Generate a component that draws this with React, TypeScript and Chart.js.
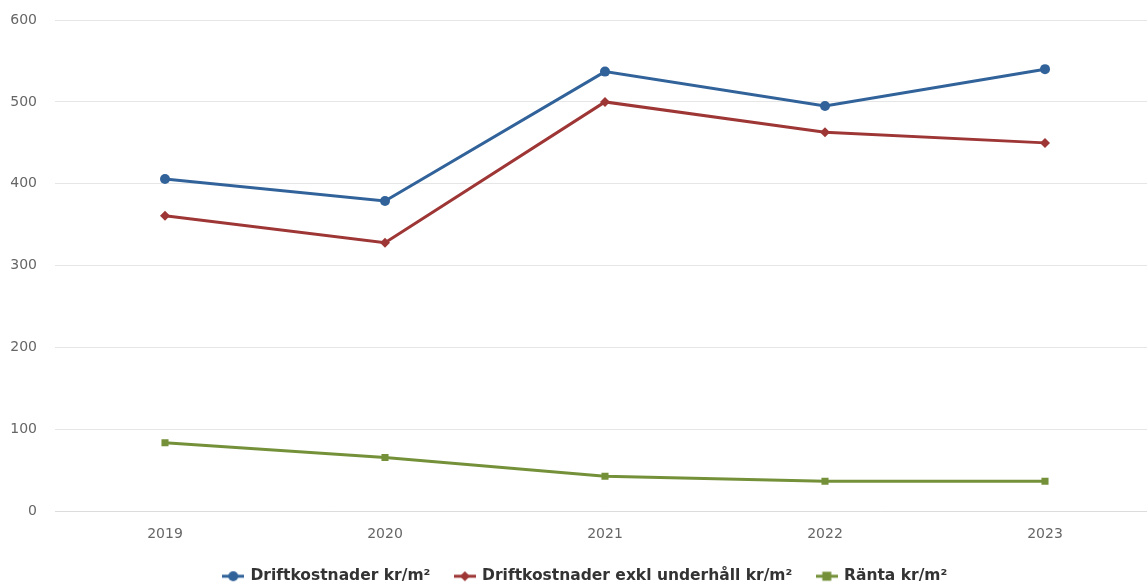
import React, { useEffect, useRef } from "react";
import { Chart, registerables } from "chart.js";

Chart.register(...registerables);

const categories = ["2019", "2020", "2021", "2022", "2023"];
const driftkostnader = [406, 379, 537, 495, 540];
const driftExklUnderhall = [361, 328, 500, 463, 450];
const ranta = [84, 66, 43, 37, 37];
const seriesNames = ["Driftkostnader kr/m²", "Driftkostnader exkl underhåll kr/m²", "Ränta kr/m²"];
const seriesColors = ["#31639a", "#9e3636", "#74913a"];
const pointStyles = ["circle", "rectRot", "rect"];
const yTicks = [0, 100, 200, 300, 400, 500, 600];

function legendSymbol(color: string, style: string): HTMLCanvasElement {
  const c = document.createElement("canvas");
  c.width = 22;
  c.height = 12;
  const ctx = c.getContext("2d")!;
  ctx.strokeStyle = color;
  ctx.lineWidth = 3;
  ctx.beginPath();
  ctx.moveTo(0, 6);
  ctx.lineTo(22, 6);
  ctx.stroke();
  ctx.fillStyle = color;
  ctx.beginPath();
  if (style === "circle") {
    ctx.arc(11, 6, 5, 0, Math.PI * 2);
  } else if (style === "rectRot") {
    ctx.moveTo(11, 1);
    ctx.lineTo(16, 6);
    ctx.lineTo(11, 11);
    ctx.lineTo(6, 6);
    ctx.closePath();
  } else {
    ctx.rect(6.5, 1.5, 9, 9);
  }
  ctx.fill();
  return c;
}

const shiftLegend = {
  id: "shiftLegend",
  afterLayout(chart: any) {
    const l = chart.legend;
    if (l) {
      l.left += 8;
      l.right += 8;
    }
  },
};

export default function App() {
  const ref = useRef<HTMLCanvasElement>(null);
  useEffect(() => {
    if (!ref.current) return;
    const data = [driftkostnader, driftExklUnderhall, ranta];
    const symbols = seriesColors.map((c, i) => legendSymbol(c, pointStyles[i]));
    const chart = new Chart(ref.current, {
      type: "line",
      data: {
        labels: categories,
        datasets: data.map((d, i) => ({
          label: seriesNames[i],
          data: d,
          borderColor: seriesColors[i],
          backgroundColor: seriesColors[i],
          borderWidth: 3,
          pointStyle: pointStyles[i] as any,
          pointRadius: 5,
          pointBorderWidth: 0,
          tension: 0,
        })),
      },
      plugins: [shiftLegend],
      options: {
        animation: false,
        responsive: false,
        maintainAspectRatio: false,
        layout: { padding: { top: 20, right: 15, left: 0, bottom: 0 } },
        plugins: {
          tooltip: { enabled: false },
          legend: {
            position: "bottom",
            labels: {
              usePointStyle: true,
              pointStyleWidth: 19,
              color: "#333",
              font: { family: "'DejaVu Sans'", size: 15.5, weight: "bold" },
              padding: 25,
              generateLabels: (ch: any) =>
                ch.data.datasets.map((ds: any, i: number) => ({
                  text: ds.label,
                  fillStyle: ds.borderColor,
                  strokeStyle: ds.borderColor,
                  lineWidth: 0,
                  pointStyle: symbols[i],
                  datasetIndex: i,
                  hidden: false,
                  fontColor: "#333",
                })),
            },
          },
        },
        scales: {
          x: {
            offset: true,
            afterFit: (s: any) => {
              s.height = 32;
            },
            grid: { display: false, drawTicks: false },
            border: { display: true, color: "#dcdcdc", width: 1 },
            ticks: {
              color: "#666",
              font: { family: "'DejaVu Sans'", size: 14 },
              padding: 14,
            },
          },
          y: {
            min: 0,
            max: 600,
            afterFit: (s: any) => {
              s.width = 55;
            },
            afterBuildTicks: (s: any) => {
              s.ticks = yTicks.map((v) => ({ value: v }));
            },
            grid: { color: "#e6e6e6", drawTicks: true, tickLength: 14, tickColor: "rgba(0,0,0,0)" },
            border: { display: false },
            ticks: {
              color: "#666",
              font: { family: "'DejaVu Sans'", size: 14 },
              padding: 4,
            },
          },
        },
      },
    });
    return () => chart.destroy();
  }, []);
  return (
    <div
      style={{
        position: "fixed",
        left: 0,
        top: 0,
        width: 1147,
        height: 586,
        overflow: "hidden",
        background: "#fff",
      }}
    >
      <canvas ref={ref} width={1170} height={594} style={{ display: "block" }} />
    </div>
  );
}
